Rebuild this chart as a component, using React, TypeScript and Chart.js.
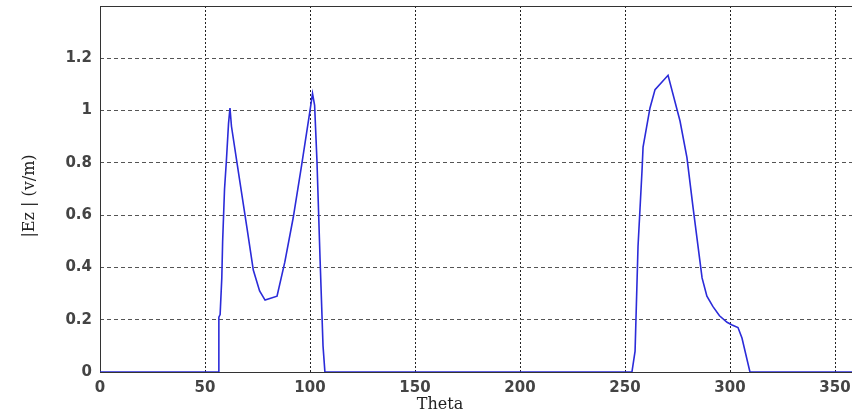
import React, { useEffect, useRef } from "react";
import { Chart, registerables } from "chart.js";

Chart.register(...registerables);

const thetaDeg = [
  0, 56.2, 56.6, 57.2, 58.0, 58.4, 59.3, 60.2, 61.2, 61.9, 62.6, 66, 70, 73, 76, 78.6, 84.3, 88, 92, 96, 100,
  101.2, 102.2, 103.3, 104.8, 106.2, 107.1, 253.3, 254.8, 256.2, 258.1, 258.6, 261.9, 264.3, 270.5, 276.2,
  279.5, 282.4, 286.7, 289, 291.9, 295, 298.6, 301, 303.8, 305.7, 309.5, 360,
];
const ezValues = [
  0, 0, 0.21, 0.22, 0.36, 0.5, 0.7, 0.81, 0.95, 1.01, 0.94, 0.76, 0.55, 0.39, 0.31, 0.275, 0.29, 0.42, 0.59, 0.79, 1.0,
  1.065, 1.02, 0.81, 0.43, 0.1, 0, 0, 0.08, 0.48, 0.77, 0.86, 1.01, 1.08, 1.135, 0.96,
  0.82, 0.63, 0.36, 0.29, 0.25, 0.215, 0.19, 0.18, 0.17, 0.13, 0, 0,
];
const xTickValues = [0, 50, 100, 150, 200, 250, 300, 350];
const yTickValues = [0, 0.2, 0.4, 0.6, 0.8, 1.0, 1.2];
const xTitle = "Theta";
const yTitle = "|Ez | (v/m)";

export default function App() {
  const canvasRef = useRef<HTMLCanvasElement | null>(null);

  useEffect(() => {
    if (!canvasRef.current) return;
    const framePlugin = {
      id: "frameAndTitles",
      beforeDatasetsDraw(chart: any) {
        const { ctx, chartArea } = chart;
        ctx.save();
        ctx.strokeStyle = "#333";
        ctx.lineWidth = 1;
        ctx.setLineDash([]);
        ctx.strokeRect(
          Math.round(chartArea.left) + 0.5,
          Math.round(chartArea.top) + 0.5,
          Math.round(chartArea.right - chartArea.left),
          Math.round(chartArea.bottom - chartArea.top)
        );
        ctx.restore();
      },
      afterDraw(chart: any) {
        const { ctx } = chart;
        ctx.save();
        ctx.fillStyle = "#222";
        ctx.font = '16px "DejaVu Serif"';
        ctx.textAlign = "center";
        ctx.textBaseline = "middle";
        ctx.fillText(xTitle, 440, 405);
        ctx.translate(30, 196);
        ctx.rotate(-Math.PI / 2);
        ctx.fillText(yTitle, 0, 0);
        ctx.restore();
      },
    };

    const chart = new Chart(canvasRef.current, {
      type: "line",
      data: {
        datasets: [
          {
            data: thetaDeg.map((t, i) => ({ x: t, y: ezValues[i] })),
            borderColor: "#2b2bd9",
            borderWidth: 1.6,
            pointRadius: 0,
            tension: 0,
            fill: false,
          },
        ],
      },
      options: {
        animation: false,
        responsive: true,
        maintainAspectRatio: false,
        layout: { padding: { top: 6, right: 14, left: 0, bottom: 0 } },
        plugins: { legend: { display: false }, tooltip: { enabled: false } },
        scales: {
          x: {
            type: "linear",
            min: 0,
            max: 360,
            afterBuildTicks: (scale: any) => {
              scale.ticks = xTickValues.map((v) => ({ value: v }));
            },
            afterFit: (scale: any) => {
              scale.height = 48;
              scale.paddingLeft = 0;
              scale.paddingRight = 0;
            },
            grid: { color: "#222", lineWidth: 1, drawTicks: false },
            border: { display: false, dash: [2, 2] },
            ticks: {
              padding: 7,
              color: "#444",
              font: { family: "DejaVu Sans", size: 15, weight: "bold" },
              maxRotation: 0,
              callback: (v: any) => String(v),
            },
          },
          y: {
            min: 0,
            max: 1.4,
            afterBuildTicks: (scale: any) => {
              scale.ticks = yTickValues.map((v) => ({ value: v }));
            },
            afterFit: (scale: any) => {
              scale.width = 100;
              scale.paddingTop = 0;
              scale.paddingBottom = 0;
            },
            grid: { color: "#555", lineWidth: 1, drawTicks: false },
            border: { display: false, dash: [4, 3] },
            ticks: {
              padding: 8,
              color: "#444",
              font: { family: "DejaVu Sans", size: 15, weight: "bold" },
              callback: (v: any) => String(Math.round(Number(v) * 10) / 10),
            },
          },
        },
      },
      plugins: [framePlugin],
    } as any);

    return () => chart.destroy();
  }, []);

  return (
    <div
      style={{
        position: "fixed",
        left: 0,
        top: 0,
        width: 852,
        height: 420,
        overflow: "hidden",
        background: "#fff",
      }}
    >
      <div style={{ position: "relative", width: 870, height: 420 }}>
        <canvas ref={canvasRef} />
      </div>
    </div>
  );
}
